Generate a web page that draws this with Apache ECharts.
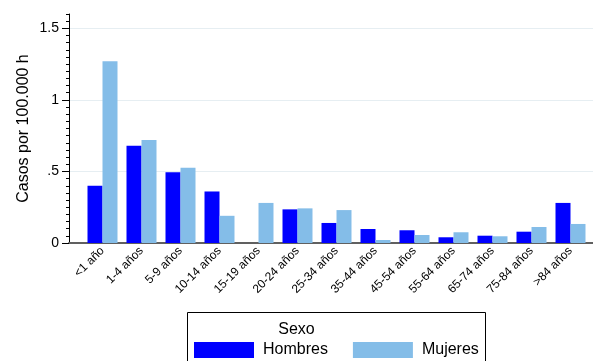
<!DOCTYPE html>
<html>
<head>
<meta charset="utf-8">
<script src="https://cdn.jsdelivr.net/npm/echarts@6/dist/echarts.min.js"></script>
<style>
  html, body { margin: 0; padding: 0; background: #fff; }
  #chart { width: 593px; height: 361px; }
</style>
</head>
<body>
<div id="chart"></div>
<script>
// Incidence per 100,000 inhabitants by age group and sex
const categories = ['<1 año', '1-4 años', '5-9 años', '10-14 años', '15-19 años', '20-24 años',
  '25-34 años', '35-44 años', '45-54 años', '55-64 años', '65-74 años', '75-84 años', '>84 años'];
const hombres = [0.40, 0.68, 0.495, 0.36, 0, 0.235, 0.14, 0.098, 0.089, 0.04, 0.051, 0.079, 0.28];
const mujeres = [1.27, 0.72, 0.525, 0.19, 0.28, 0.242, 0.23, 0.021, 0.056, 0.075, 0.047, 0.112, 0.133];
const seriesNames = ['Hombres', 'Mujeres'];
const yMajorTicks = [0, 0.5, 1, 1.5];

const FONT = "'Liberation Sans', Arial, Helvetica, sans-serif";
const chart = echarts.init(document.getElementById('chart'), null, { renderer: 'canvas' });

const yTop = 1.6;              // axis extends a little above the last labelled tick
const plotTop = 14, plotBottom = 243;
const pxPerUnit = (plotBottom - plotTop) / yTop;
const yMajorMax = yMajorTicks[yMajorTicks.length - 1];

const fmt = v => (v === 0 ? '0' : String(v).replace(/^0\./, '.'));

chart.setOption({
  animation: false,
  textStyle: { fontFamily: FONT },
  grid: [
    // axis frame: y axis line with fine ticks, grey baseline
    { left: 69, right: 0, top: plotTop, bottom: 361 - plotBottom },
    // labelled major ticks and grid lines
    { left: 69, right: 0, top: plotBottom - yMajorMax * pxPerUnit, bottom: 361 - plotBottom },
    // bars
    { left: 83, right: 3, top: plotTop, bottom: 361 - plotBottom }
  ],
  xAxis: [
    { gridIndex: 0, type: 'value', min: 0, max: 1,
      axisLine: { show: true, lineStyle: { color: '#606060', width: 2 } },
      axisTick: { show: false }, axisLabel: { show: false }, splitLine: { show: false } },
    { gridIndex: 1, type: 'value', min: 0, max: 1, show: false },
    { gridIndex: 2, type: 'category', data: categories,
      axisLine: { show: false }, axisTick: { show: false },
      axisLabel: { rotate: 45, fontSize: 12, color: '#000', margin: 6, interval: 0, fontFamily: FONT } }
  ],
  yAxis: [
    { gridIndex: 0, type: 'value', min: 0, max: yTop, interval: 0.05,
      name: 'Casos por 100.000 h', nameLocation: 'middle', nameGap: 37,
      nameTextStyle: { fontSize: 16, color: '#000', fontFamily: FONT },
      axisLine: { show: true, lineStyle: { color: '#000', width: 1 } },
      axisTick: { show: true, length: 3, lineStyle: { color: '#000' } },
      axisLabel: { show: false }, splitLine: { show: false } },
    { gridIndex: 1, type: 'value', min: 0, max: yMajorMax, interval: 0.5,
      axisLine: { show: true, lineStyle: { color: '#000', width: 1 } },
      axisTick: { show: true, length: 7, lineStyle: { color: '#000', width: 1 } },
      axisLabel: { show: true, fontSize: 14, color: '#000', margin: 10, formatter: fmt, fontFamily: FONT },
      splitLine: { show: true, lineStyle: { color: '#E6EEF2', width: 1 } } },
    { gridIndex: 2, type: 'value', min: 0, max: yTop, show: false }
  ],
  legend: {
    data: seriesNames,
    left: 194, top: 342, padding: 0,
    icon: 'rect', itemWidth: 60, itemHeight: 16, itemGap: 25,
    textStyle: { fontSize: 16, color: '#000', fontFamily: FONT, padding: [0, 0, 0, 4] },
    selectedMode: false
  },
  graphic: [
    { type: 'rect', z: -1, shape: { x: 187.5, y: 312.5, width: 298, height: 80 },
      style: { fill: '#fff', stroke: '#000', lineWidth: 1 } },
    { type: 'text', left: 'center', top: 322,
      style: { text: 'Sexo', font: '16px ' + FONT, fill: '#000' } }
  ],
  series: [
    { name: seriesNames[0], type: 'bar', xAxisIndex: 2, yAxisIndex: 2, data: hombres,
      barWidth: 15, barGap: '0%', itemStyle: { color: '#0000FF' } },
    { name: seriesNames[1], type: 'bar', xAxisIndex: 2, yAxisIndex: 2, data: mujeres,
      barWidth: 15, barGap: '0%', itemStyle: { color: '#84BDE8' } }
  ]
});
</script>
</body>
</html>
